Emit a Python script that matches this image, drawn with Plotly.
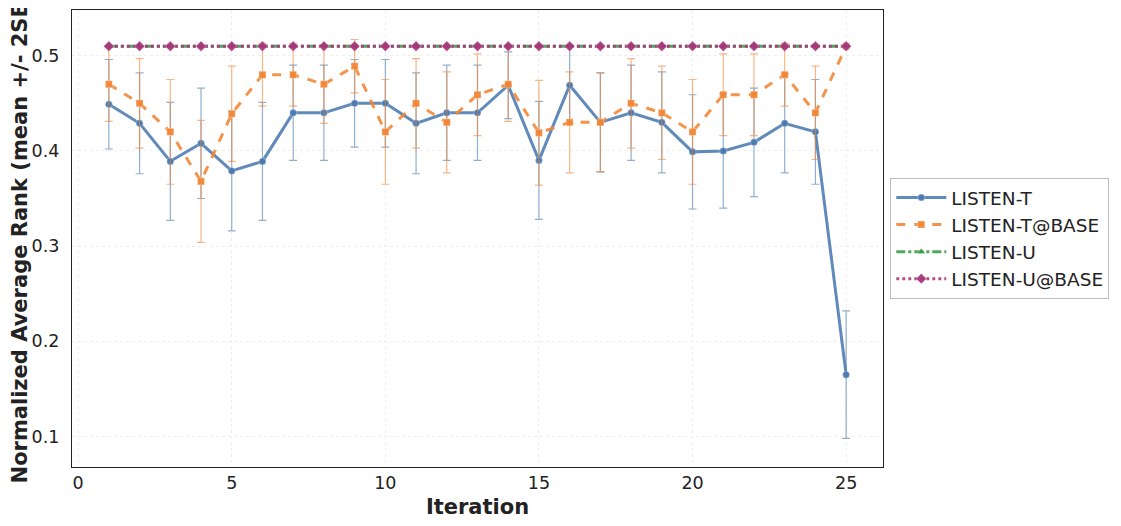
import plotly.graph_objects as go

iterations = list(range(1, 26))

listen_t_mean = [0.449, 0.429, 0.389, 0.408, 0.379, 0.389, 0.440, 0.440, 0.450, 0.450,
                 0.429, 0.440, 0.440, 0.469, 0.390, 0.469, 0.430, 0.440, 0.430, 0.399,
                 0.400, 0.409, 0.429, 0.420, 0.165]
listen_t_err = [0.047, 0.053, 0.062, 0.058, 0.063, 0.062, 0.050, 0.050, 0.046, 0.046,
                0.053, 0.050, 0.050, 0.035, 0.062, 0.040, 0.052, 0.050, 0.053, 0.060,
                0.060, 0.057, 0.052, 0.055, 0.067]

listen_tb_mean = [0.470, 0.450, 0.420, 0.368, 0.439, 0.480, 0.480, 0.470, 0.489, 0.420,
                  0.450, 0.430, 0.459, 0.470, 0.419, 0.430, 0.430, 0.450, 0.440, 0.420,
                  0.459, 0.459, 0.480, 0.440, 0.510]
listen_tb_err = [0.039, 0.047, 0.055, 0.064, 0.050, 0.033, 0.033, 0.041, 0.028, 0.055,
                 0.047, 0.053, 0.043, 0.039, 0.055, 0.053, 0.052, 0.047, 0.049, 0.055,
                 0.043, 0.043, 0.033, 0.049, 0.000]

listen_u_mean = [0.51, 0.51, 0.51, 0.51, 0.51, 0.51, 0.51, 0.51, 0.51, 0.51,
                 0.51, 0.51, 0.51, 0.51, 0.51, 0.51, 0.51, 0.51, 0.51, 0.51,
                 0.51, 0.51, 0.51, 0.51, 0.51]
listen_u_err = [0.0] * 25

listen_ub_mean = [0.51, 0.51, 0.51, 0.51, 0.51, 0.51, 0.51, 0.51, 0.51, 0.51,
                  0.51, 0.51, 0.51, 0.51, 0.51, 0.51, 0.51, 0.51, 0.51, 0.51,
                  0.51, 0.51, 0.51, 0.51, 0.51]
listen_ub_err = [0.0] * 25

x_ticks = [0, 5, 10, 15, 20, 25]
y_ticks = [0.1, 0.2, 0.3, 0.4, 0.5]

series = [
    ("LISTEN-T", listen_t_mean, listen_t_err, (74, 122, 176), "solid", "circle", 7),
    ("LISTEN-T@BASE", listen_tb_mean, listen_tb_err, (242, 133, 51), "dash", "square", 7),
    ("LISTEN-U", listen_u_mean, listen_u_err, (58, 154, 72), "dashdot", "triangle-up", 7),
    ("LISTEN-U@BASE", listen_ub_mean, listen_ub_err, (168, 55, 122), "dot", "diamond", 8),
]

FONT = "DejaVu Sans"
fig = go.Figure()
for name, mean, err, (r, g, b), dash, sym, msize in series:
    fig.add_trace(go.Scatter(
        x=iterations, y=mean, name=name, mode="lines+markers",
        line=dict(color=f"rgba({r},{g},{b},0.88)", width=3, dash=dash),
        marker=dict(symbol=sym, size=msize, color=f"rgba({r},{g},{b},0.95)",
                    line=dict(color="rgba(255,255,255,0.6)", width=0.5)),
        error_y=dict(type="data", array=err, visible=True,
                     color=f"rgba({r},{g},{b},0.6)", thickness=1.2, width=4),
    ))

fig.update_layout(
    width=1121, height=526,
    margin=dict(l=64, r=246, t=2, b=67, autoexpand=False),
    paper_bgcolor="white", plot_bgcolor="white",
    font=dict(family=FONT, size=17.5, color="#222"),
    showlegend=True,
    legend=dict(x=1.009, y=0.5, xanchor="left", yanchor="middle",
                bordercolor="#bbbbbb", borderwidth=1, bgcolor="white",
                font=dict(family=FONT, size=18.5, color="#222"),
                itemwidth=50, tracegroupgap=0),
    xaxis=dict(
        range=[-0.2, 26.2], tickvals=x_ticks, ticktext=[str(v) for v in x_ticks],
        showgrid=True, gridcolor="#eeeeee", griddash="dot", gridwidth=1,
        showline=True, linecolor="#222", linewidth=1.3, mirror=True,
        zeroline=False, ticks="", automargin=False,
        title=dict(text="<b>Iteration</b>", font=dict(family=FONT, size=21), standoff=7),
    ),
    yaxis=dict(
        range=[0.068, 0.548], tickvals=y_ticks, ticktext=[f"{v:.1f}" for v in y_ticks],
        showgrid=True, gridcolor="#eeeeee", griddash="dot", gridwidth=1,
        showline=True, linecolor="#222", linewidth=1.3, mirror=True,
        zeroline=False, ticks="", ticklabelstandoff=8, automargin=False,
        title=dict(text="<b>Normalized Average Rank (mean +/- 2SE)</b>",
                   font=dict(family=FONT, size=21), standoff=6),
    ),
)

fig.write_html("out.html")
